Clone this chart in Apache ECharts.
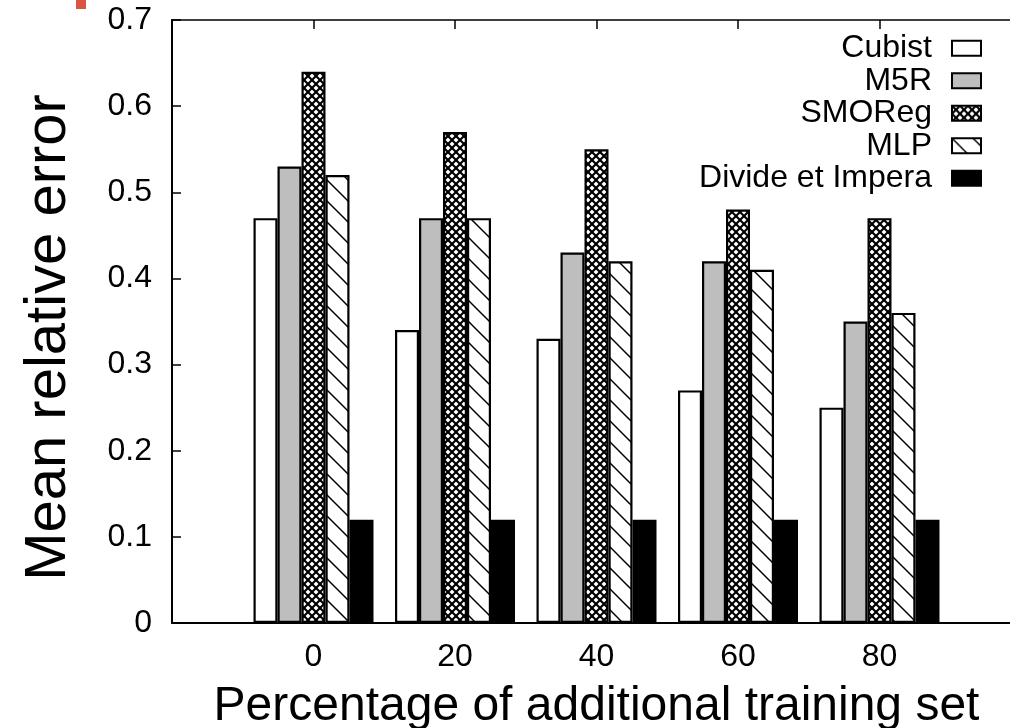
<!DOCTYPE html>
<html>
<head>
<meta charset="utf-8">
<script src="https://cdn.jsdelivr.net/npm/echarts@6/dist/echarts.min.js"></script>
<style>
html,body{margin:0;padding:0;background:#fff;overflow:hidden;}
#chart{width:1010px;height:728px;}
</style>
</head>
<body>
<div id="chart"></div>
<script>
// ---- data ----
const categories = ['', '0', '20', '40', '60', '80', ''];
const seriesNames = ['Cubist', 'M5R', 'SMOReg', 'MLP', 'Divide et Impera'];
const cubist  = [null, 0.47, 0.34, 0.33, 0.27, 0.25, null];
const m5r     = [null, 0.53, 0.47, 0.43, 0.42, 0.35, null];
const smoreg  = [null, 0.64, 0.57, 0.55, 0.48, 0.47, null];
const mlp     = [null, 0.52, 0.47, 0.42, 0.41, 0.36, null];
const divide  = [null, 0.12, 0.12, 0.12, 0.12, 0.12, null];
const yTicks = { min: 0, max: 0.7, interval: 0.1 };

// ---- patterns ----
function makePattern(size, dirs, lw) {
  const c = document.createElement('canvas');
  c.width = size; c.height = size;
  const ctx = c.getContext('2d');
  ctx.fillStyle = '#fff';
  ctx.fillRect(0, 0, size, size);
  ctx.strokeStyle = '#000';
  ctx.lineWidth = lw;
  for (const d of dirs) {
    for (let k = -1; k <= 1; k++) {
      ctx.beginPath();
      if (d === 'back') { // "\"
        ctx.moveTo(k * size - 2, -2);
        ctx.lineTo(k * size + size + 2, size + 2);
      } else { // "/"
        ctx.moveTo(k * size - 2, size + 2);
        ctx.lineTo(k * size + size + 2, -2);
      }
      ctx.stroke();
    }
  }
  return { image: c, repeat: 'repeat' };
}
const crossPattern = makePattern(8, ['back', 'fwd'], 2.1);
const diagPattern = makePattern(21, ['back'], 1.5);

const fills = ['#ffffff', '#bebebe', crossPattern, diagPattern, '#000000'];
const dataSets = [cubist, m5r, smoreg, mlp, divide];

const FONT = 'Liberation Sans';
const chart = echarts.init(document.getElementById('chart'), null, { renderer: 'canvas' });

const option = {
  backgroundColor: '#ffffff',
  animation: false,
  textStyle: { fontFamily: FONT },
  grid: { left: 172, top: 20, width: 849, height: 603, containLabel: false, outerBoundsMode: 'none' },
  legend: {
    data: seriesNames,
    orient: 'vertical',
    right: 23,
    top: 27,
    align: 'right',
    icon: 'rect',
    itemWidth: 29,
    itemHeight: 15,
    itemGap: 0,
    selectedMode: false,
    itemStyle: { borderColor: '#000', borderWidth: 2 },
    textStyle: { fontSize: 32, fontFamily: FONT, color: '#000', padding: [0, 15, 0, 0], lineHeight: 32.5 }
  },
  xAxis: [
    {
      type: 'category',
      data: categories,
      boundaryGap: false,
      position: 'bottom',
      axisLine: { show: true, lineStyle: { color: '#000', width: 2 } },
      axisTick: { show: true, inside: true, length: 9, lineStyle: { color: '#000', width: 1.5 } },
      axisLabel: { show: true, interval: 0, fontSize: 32, fontFamily: FONT, color: '#000', margin: 18 },
      splitLine: { show: false },
      name: 'Percentage of additional training set',
      nameLocation: 'middle',
      nameGap: 60,
      nameTextStyle: { fontSize: 48, fontFamily: FONT, color: '#000' }
    },
    {
      type: 'category',
      data: categories,
      boundaryGap: false,
      position: 'top',
      axisLine: { show: true, lineStyle: { color: '#000', width: 1.5 } },
      axisTick: { show: true, inside: true, length: 9, lineStyle: { color: '#000', width: 1.5 } },
      axisLabel: { show: false },
      splitLine: { show: false }
    }
  ],
  yAxis: {
    type: 'value',
    min: yTicks.min,
    max: yTicks.max,
    interval: yTicks.interval,
    axisLine: { show: true, lineStyle: { color: '#000', width: 2 } },
    axisTick: { show: true, inside: true, length: 9, lineStyle: { color: '#000', width: 1.5 } },
    axisLabel: { fontSize: 32, fontFamily: FONT, color: '#000', margin: 20 },
    splitLine: { show: false },
    name: 'Mean relative error',
    nameLocation: 'middle',
    nameGap: 94,
    nameTextStyle: { fontSize: 58, fontFamily: FONT, color: '#000', padding: [0, 32, 0, 0] }
  },
  series: seriesNames.map((name, i) => ({
    name: name,
    type: 'bar',
    xAxisIndex: 0,
    data: dataSets[i],
    barWidth: 24,
    barGap: '0%',
    itemStyle: { color: fills[i], borderColor: '#000', borderWidth: 2.2 },
    emphasis: { disabled: true }
  })),
  graphic: [
    { type: 'rect', shape: { x: 76, y: 0, width: 10, height: 9 }, style: { fill: '#d9553f' }, silent: true }
  ]
};
chart.setOption(option);
</script>
</body>
</html>
